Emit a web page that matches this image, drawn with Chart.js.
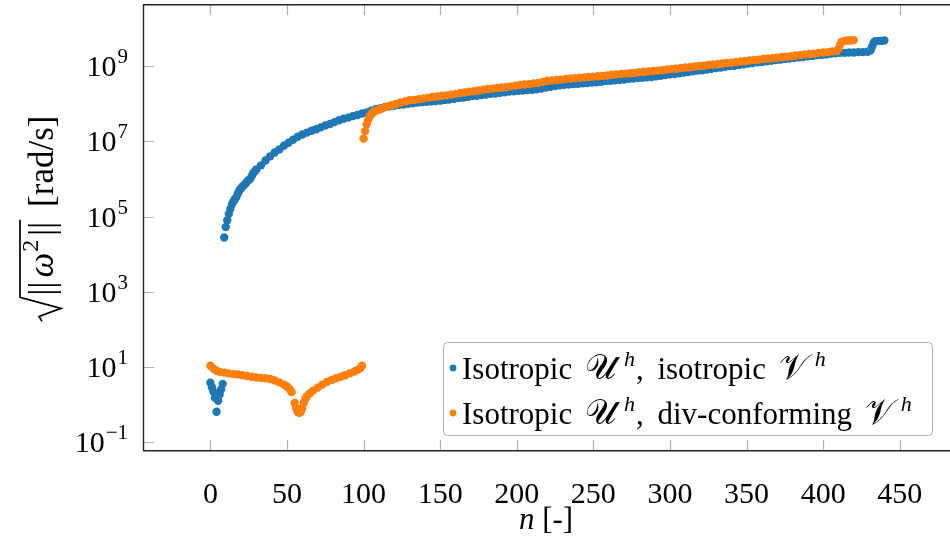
<!DOCTYPE html>
<html>
<head>
<meta charset="utf-8">
<script src="https://cdn.jsdelivr.net/npm/chart.js@4.4.1/dist/chart.umd.min.js"></script>
<style>
  html, body { margin: 0; padding: 0; background: #fff; overflow: hidden; }
  canvas { display: block; }
</style>
</head>
<body>
<canvas id="grafico" width="956" height="542"></canvas>
<script>
// Pares [n, log10 do valor]
const azul = [
    [0, 0.58], [1, 0.46], [2, 0.34], [3, 0.18], [4, -0.19], [5, 0.1], [6, 0.26], [7, 0.4], [8, 0.55],
    [9, 4.44], [10, 4.72], [11, 4.9], [12, 5.07], [13, 5.2], [14, 5.32], [15, 5.4], [16, 5.46], [17, 5.52],
    [18, 5.62], [19, 5.7], [20, 5.75], [21, 5.8], [22, 5.84], [23, 5.88], [24, 5.93], [25, 5.97], [26, 6.0],
    [27, 6.08], [28, 6.16], [29, 6.2], [30, 6.25], [33, 6.36], [36, 6.49], [39, 6.6], [42, 6.7], [45, 6.78],
    [48, 6.88], [51, 6.96], [54, 7.04], [57, 7.12], [60, 7.18], [63, 7.23], [66, 7.28], [69, 7.32], [72, 7.37],
    [75, 7.42], [78, 7.46], [81, 7.51], [84, 7.56], [87, 7.6], [90, 7.63], [93, 7.67], [96, 7.7], [99, 7.74],
    [102, 7.77], [105, 7.81], [108, 7.85], [111, 7.88], [114, 7.91], [117, 7.93], [120, 7.95], [123, 7.97],
    [126, 7.98], [129, 8.0], [132, 8.01], [135, 8.03], [138, 8.04], [141, 8.05], [144, 8.06], [147, 8.07],
    [150, 8.08], [153, 8.1], [156, 8.11], [159, 8.13], [162, 8.15], [165, 8.16], [168, 8.18], [171, 8.2],
    [174, 8.21], [177, 8.23], [180, 8.24], [183, 8.26], [186, 8.27], [189, 8.29], [192, 8.3], [195, 8.32],
    [198, 8.33], [201, 8.34], [204, 8.35], [207, 8.36], [210, 8.37], [213, 8.38], [216, 8.4], [219, 8.43],
    [222, 8.45], [225, 8.47], [228, 8.49], [231, 8.5], [234, 8.51], [237, 8.52], [240, 8.53], [243, 8.54],
    [246, 8.55], [249, 8.56], [252, 8.57], [255, 8.58], [258, 8.6], [261, 8.61], [264, 8.62], [267, 8.63],
    [270, 8.64], [273, 8.66], [276, 8.67], [279, 8.68], [282, 8.69], [285, 8.7], [288, 8.71], [291, 8.73],
    [294, 8.74], [297, 8.76], [300, 8.78], [303, 8.79], [306, 8.81], [309, 8.83], [312, 8.84], [315, 8.86],
    [318, 8.88], [321, 8.89], [324, 8.91], [327, 8.93], [330, 8.95], [333, 8.96], [336, 8.98], [339, 9.0],
    [342, 9.01], [345, 9.03], [348, 9.05], [351, 9.07], [354, 9.08], [357, 9.1], [360, 9.11], [363, 9.13],
    [366, 9.14], [369, 9.16], [372, 9.17], [375, 9.19], [378, 9.2], [381, 9.22], [384, 9.23], [387, 9.24],
    [390, 9.26], [393, 9.27], [396, 9.29], [399, 9.3], [402, 9.31], [405, 9.33], [408, 9.34], [411, 9.35],
    [414, 9.35], [417, 9.36], [420, 9.36], [423, 9.37], [426, 9.37], [429, 9.38], [431, 9.42], [432, 9.52],
    [433, 9.62], [434, 9.66], [436, 9.67], [438, 9.67], [440, 9.68]
];

const laranja = [
    [0, 1.03], [2, 0.95], [4, 0.9], [6, 0.87], [9, 0.85], [12, 0.83], [15, 0.81], [18, 0.8], [21, 0.78],
    [24, 0.76], [27, 0.74], [30, 0.72], [33, 0.71], [36, 0.7], [39, 0.68], [42, 0.64], [45, 0.59], [48, 0.53],
    [50, 0.48], [52, 0.4], [53, 0.33], [55, 0.04], [56, -0.1], [57, -0.2], [58, -0.22], [59, -0.2], [60, -0.1],
    [61, 0.05], [62, 0.15], [63, 0.22], [65, 0.3], [67, 0.37], [70, 0.45], [73, 0.53], [76, 0.6], [79, 0.65],
    [82, 0.7], [85, 0.74], [88, 0.78], [91, 0.83], [94, 0.88], [96, 0.92], [98, 0.97], [99, 1.03],
    [100, 7.07], [101, 7.27], [102, 7.45], [103, 7.57], [104, 7.66], [105, 7.72], [106, 7.76], [107, 7.79],
    [108, 7.81], [110, 7.84], [112, 7.87], [115, 7.92], [118, 7.96], [121, 7.99], [124, 8.03], [127, 8.06],
    [130, 8.09], [133, 8.1], [136, 8.12], [139, 8.14], [142, 8.16], [145, 8.18], [148, 8.19], [151, 8.21],
    [154, 8.22], [157, 8.24], [160, 8.26], [163, 8.28], [166, 8.3], [169, 8.32], [172, 8.33], [175, 8.35],
    [178, 8.37], [181, 8.39], [184, 8.4], [187, 8.42], [190, 8.43], [193, 8.44], [196, 8.46], [199, 8.48],
    [202, 8.5], [205, 8.51], [208, 8.52], [211, 8.54], [214, 8.55], [217, 8.58], [220, 8.61], [223, 8.62],
    [226, 8.63], [229, 8.64], [232, 8.66], [235, 8.67], [238, 8.68], [241, 8.69], [244, 8.7], [247, 8.71],
    [250, 8.72], [253, 8.73], [256, 8.74], [259, 8.75], [262, 8.77], [265, 8.78], [268, 8.79], [271, 8.8],
    [274, 8.81], [277, 8.82], [280, 8.84], [283, 8.85], [286, 8.86], [289, 8.87], [292, 8.88], [295, 8.89],
    [298, 8.91], [301, 8.92], [304, 8.93], [307, 8.95], [310, 8.96], [313, 8.97], [316, 8.99], [319, 9.0],
    [322, 9.01], [325, 9.03], [328, 9.04], [331, 9.05], [334, 9.07], [337, 9.08], [340, 9.09], [343, 9.11],
    [346, 9.12], [349, 9.13], [352, 9.15], [355, 9.16], [358, 9.17], [361, 9.19], [364, 9.2], [367, 9.21],
    [370, 9.22], [373, 9.24], [376, 9.25], [379, 9.26], [382, 9.28], [385, 9.29], [388, 9.31], [391, 9.32],
    [394, 9.33], [397, 9.35], [400, 9.36], [403, 9.37], [406, 9.39], [409, 9.4], [410, 9.46], [411, 9.56],
    [412, 9.65], [414, 9.67], [416, 9.68], [418, 9.68], [420, 9.69]
];

const legendas = ['Isotropic 𝒰ʰ, isotropic 𝒱ʰ', 'Isotropic 𝒰ʰ, div-conforming 𝒱ʰ'];
const ticksX = [0, 50, 100, 150, 200, 250, 300, 350, 400, 450];
const expoentesY = [-1, 1, 3, 5, 7, 9];

const SERIF = '"Liberation Serif", "DejaVu Serif", serif';
const SCRIPT = '"DejaVu Sans", "DejaVu Serif", "Noto Sans", sans-serif';
const TAM = 30;      // rótulos dos ticks
const TAM_LEG = 31;  // legenda
const TAM_TIT = 35;  // título do eixo y

function pontos(pares) {
    return pares.map(p => ({ x: p[0], y: Math.pow(10, p[1]) }));
}

function expoente(e) {
    return e < 0 ? '\u2212' + Math.abs(e) : String(e);
}

// o glifo caligráfico existe em alguma fonte instalada?
function temScript(ctx) {
    ctx.font = `${TAM_LEG}px ${SCRIPT}`;
    const w1 = ctx.measureText('\u{1D4B0}').width;
    const w0 = ctx.measureText('\u{10FFFD}').width;
    return Math.abs(w1 - w0) > 0.5;
}

function desenharRotulo(ctx, texto, x, y, scriptOk) {
    let run = '';
    const flush = () => {
        if (!run) return;
        ctx.font = `${TAM_LEG}px ${SERIF}`;
        if (run.startsWith(',')) {
            // vírgula colada ao expoente, espaço um pouco maior depois
            ctx.fillText(',', x, y);
            x += ctx.measureText(',').width + 6;
            run = run.slice(1);
        }
        ctx.fillText(run, x, y);
        x += ctx.measureText(run).width;
        run = '';
    };
    for (const ch of Array.from(texto)) {
        if (ch === 'ʰ') {
            flush();
            ctx.font = `italic 22px ${SERIF}`;
            ctx.fillText('h', x + 5, y - 13);
            x += ctx.measureText('h').width + 6;
        } else if (ch === '\u{1D4B0}' || ch === '\u{1D4B1}') {
            flush();
            if (scriptOk) {
                ctx.font = `${TAM_LEG + 4}px ${SCRIPT}`;
                ctx.fillText(ch, x + 5, y);
                x += ctx.measureText(ch).width + 7;
            } else {
                const l = ch === '\u{1D4B0}' ? 'U' : 'V';
                ctx.font = `italic ${TAM_LEG}px ${SERIF}`;
                ctx.fillText(l, x, y);
                x += ctx.measureText(l).width;
            }
        } else {
            run += ch;
        }
    }
    flush();
}

const eixosPgf = {
    id: 'eixosPgf',
    beforeDatasetsDraw(chart) {
        const { ctx, chartArea: a, scales: { x, y } } = chart;
        ctx.save();
        ctx.strokeStyle = '#b0b0b0';
        ctx.lineWidth = 1.2;
        ctx.beginPath();
        ticksX.forEach(v => {
            const px = Math.round(x.getPixelForValue(v)) + 0.5;
            ctx.moveTo(px, a.bottom); ctx.lineTo(px, a.bottom - 11);
            ctx.moveTo(px, a.top); ctx.lineTo(px, a.top + 11);
        });
        expoentesY.forEach(e => {
            const py = Math.round(y.getPixelForValue(Math.pow(10, e))) + 0.5;
            ctx.moveTo(a.left, py); ctx.lineTo(a.left + 11, py);
        });
        ctx.stroke();
        ctx.restore();
    },
    afterDraw(chart) {
        const { ctx, chartArea: a, scales: { x, y } } = chart;
        ctx.save();
        // moldura
        ctx.strokeStyle = '#222';
        ctx.lineWidth = 1.4;
        ctx.beginPath();
        ctx.moveTo(a.left + 0.5, a.bottom); ctx.lineTo(a.left + 0.5, a.top + 0.5);
        ctx.lineTo(a.right + 2, a.top + 0.5);
        ctx.moveTo(a.left, a.bottom - 0.3); ctx.lineTo(a.right + 2, a.bottom - 0.3);
        ctx.stroke();

        ctx.fillStyle = '#000';
        ctx.textBaseline = 'alphabetic';

        // rótulos do eixo x
        ctx.font = `${TAM}px ${SERIF}`;
        ctx.textAlign = 'center';
        ticksX.forEach(v => ctx.fillText(String(v), x.getPixelForValue(v), 503));

        // rótulos do eixo y (10 com expoente)
        expoentesY.forEach(e => {
            const py = y.getPixelForValue(Math.pow(10, e));
            const ex = expoente(e);
            ctx.textAlign = 'right';
            ctx.font = `21px ${SERIF}`;
            const wEx = ctx.measureText(ex).width;
            ctx.fillText(ex, 128, py - 3);
            ctx.font = `${TAM}px ${SERIF}`;
            ctx.fillText('10', 128 - wEx - 1, py + 10);
        });

        // título do eixo x
        ctx.textAlign = 'left';
        ctx.font = `italic ${TAM_LEG}px ${SERIF}`;
        const wn = ctx.measureText('n').width;
        ctx.font = `${TAM_LEG}px ${SERIF}`;
        const wr = ctx.measureText(' [-]').width;
        const cx = (a.left + 949) / 2;
        const tx = cx - (wn + wr) / 2;
        ctx.font = `italic ${TAM_LEG}px ${SERIF}`;
        ctx.fillText('n', tx, 529);
        ctx.font = `${TAM_LEG}px ${SERIF}`;
        ctx.fillText(' [-]', tx + wn, 529);

        // título do eixo y: raiz de ||w^2|| [rad/s]
        ctx.save();
        ctx.translate(53, 219);
        ctx.rotate(-Math.PI / 2);
        ctx.font = `${TAM_TIT}px ${SERIF}`;
        const wBar = ctx.measureText('||').width;
        const wUn = ctx.measureText(' [rad/s]').width;
        ctx.font = `italic ${TAM_TIT}px ${SERIF}`;
        const wW = ctx.measureText('ω').width;
        ctx.font = `24px ${SERIF}`;
        const w2 = ctx.measureText('2').width;
        const wRad = 25;
        const wCorpo = 2 + wBar + 4 + wW + w2 + 5 + wBar + 2;
        const total = wRad + wCorpo + 4 + wUn;
        let px = -total / 2;
        ctx.strokeStyle = '#000';
        ctx.lineWidth = 1.7;
        ctx.lineJoin = 'miter';
        ctx.beginPath();
        ctx.moveTo(px + 1, -11);
        ctx.lineTo(px + 6, -14);
        ctx.lineTo(px + 14, 8);
        ctx.lineTo(px + wRad, -33);
        ctx.lineTo(px + wRad + wCorpo, -33);
        ctx.stroke();
        px += wRad + 2;
        ctx.font = `${TAM_TIT}px ${SERIF}`;
        ctx.fillText('||', px, 0); px += wBar + 4;
        ctx.font = `italic ${TAM_TIT}px ${SERIF}`;
        ctx.fillText('ω', px, 0); px += wW;
        ctx.font = `24px ${SERIF}`;
        ctx.fillText('2', px + 1, -15); px += w2 + 5;
        ctx.font = `${TAM_TIT}px ${SERIF}`;
        ctx.fillText('||', px, 0); px += wBar + 6;
        ctx.fillText(' [rad/s]', px, 0);
        ctx.restore();

        // legenda
        const scriptOk = temScript(ctx);
        const bx = 443.5, by = 342.5, bw = 489, bh = 93;
        ctx.beginPath();
        ctx.roundRect(bx, by, bw, bh, 4);
        ctx.fillStyle = '#fff';
        ctx.fill();
        ctx.strokeStyle = '#b3b3b3';
        ctx.lineWidth = 1;
        ctx.stroke();
        chart.data.datasets.forEach((ds, i) => {
            const yc = 368 + i * 45;
            ctx.fillStyle = ds.backgroundColor;
            ctx.beginPath();
            ctx.arc(453, yc, 3.4, 0, Math.PI * 2);
            ctx.fill();
            ctx.fillStyle = '#000';
            ctx.textAlign = 'left';
            desenharRotulo(ctx, ds.label, 462, yc + 11, scriptOk);
        });
        ctx.restore();
    }
};

window.onload = () => {
    const contexto = document.getElementById('grafico');
    new Chart(contexto, {
        type: 'scatter',
        data: {
            datasets: [{
                label: legendas[0],
                data: pontos(azul),
                backgroundColor: '#1f77b4',
                borderWidth: 0,
                pointRadius: 4.2,
                order: 1
            }, {
                label: legendas[1],
                data: pontos(laranja),
                backgroundColor: '#ff7f0e',
                borderWidth: 0,
                pointRadius: 4.2,
                order: 0
            }]
        },
        options: {
            responsive: false,
            animation: false,
            events: [],
            layout: { padding: { top: 0, right: 2, bottom: 0, left: 0 } },
            plugins: { legend: { display: false }, tooltip: { enabled: false } },
            scales: {
                x: {
                    type: 'linear', min: -44, max: 484,
                    grid: { display: false }, border: { display: false }, ticks: { display: false },
                    afterBuildTicks: s => { s.ticks = ticksX.map(v => ({ value: v })); },
                    afterFit: s => { s.height = 91; }
                },
                y: {
                    type: 'logarithmic', min: Math.pow(10, -1.235), max: Math.pow(10, 10.645),
                    grid: { display: false }, border: { display: false }, ticks: { display: false },
                    afterBuildTicks: s => { s.ticks = expoentesY.map(e => ({ value: Math.pow(10, e) })); },
                    afterFit: s => { s.width = 143; }
                }
            }
        },
        plugins: [eixosPgf]
    });
};
</script>
</body>
</html>
